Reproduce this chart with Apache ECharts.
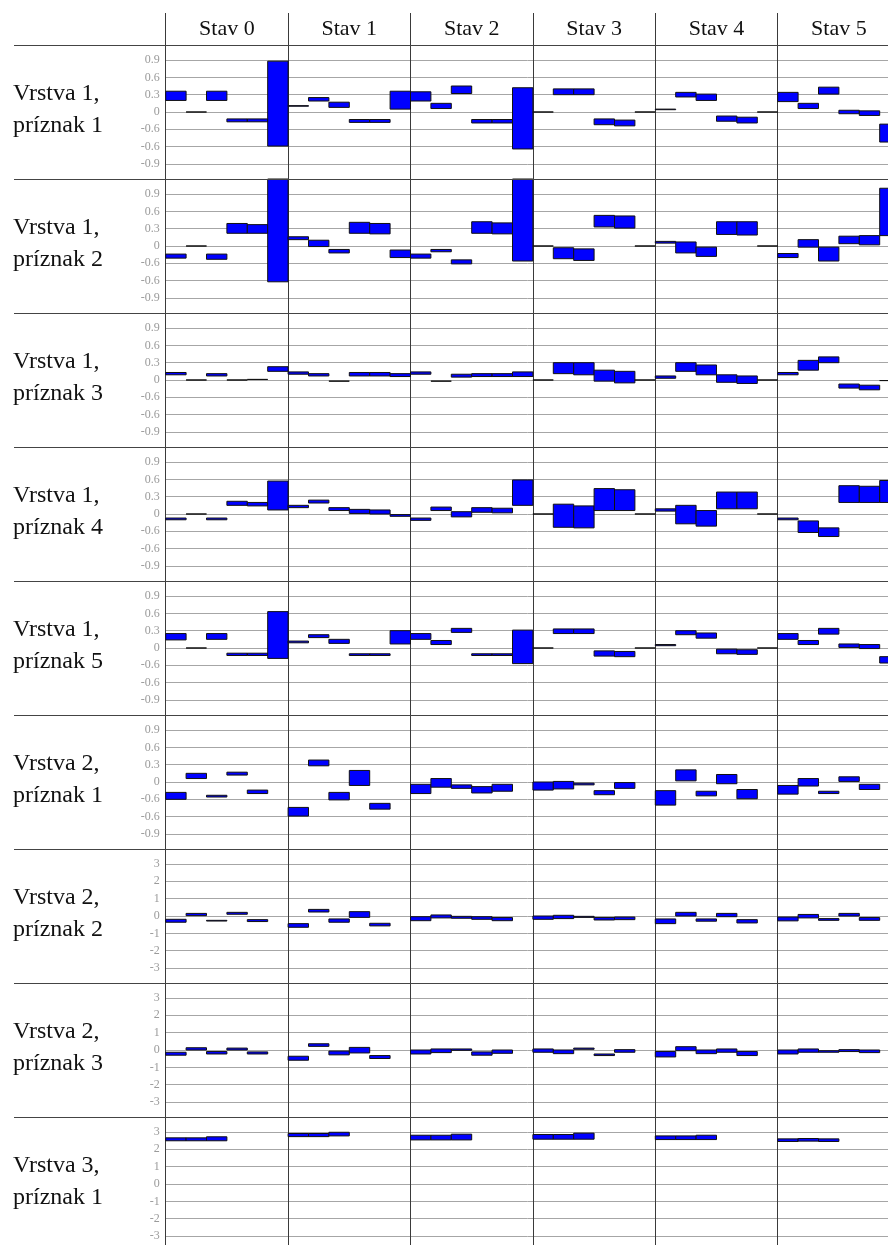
<!DOCTYPE html>
<html>
<head>
<meta charset="utf-8">
<script src="https://cdn.jsdelivr.net/npm/echarts@6/dist/echarts.min.js"></script>
<style>
html,body{margin:0;padding:0;background:#fff;}
#chart{width:888px;height:1245px;}
</style>
</head>
<body>
<div id="chart"></div>
<script>
// ---- categories / labels ----
const stavLabels = ['Stav 0', 'Stav 1', 'Stav 2', 'Stav 3', 'Stav 4', 'Stav 5'];
const rowLabels = [
  'Vrstva 1,\npríznak 1', 'Vrstva 1,\npríznak 2', 'Vrstva 1,\npríznak 3',
  'Vrstva 1,\npríznak 4', 'Vrstva 1,\npríznak 5', 'Vrstva 2,\npríznak 1',
  'Vrstva 2,\npríznak 2', 'Vrstva 2,\npríznak 3', 'Vrstva 3,\npríznak 1'
];
// tick labels (as printed in the original, incl. its repeated "-0.6")
const smallTickValues = [0.9, 0.6, 0.3, 0, -0.3, -0.6, -0.9];
const smallTickLabels = ['0.9', '0.6', '0.3', '0', '-0.6', '-0.6', '-0.9'];
const bigTickValues = [3, 2, 1, 0, -1, -2, -3];
const bigTickLabels = ['3', '2', '1', '0', '-1', '-2', '-3'];

// ---- series values: per state, list of [low, high] bars ----
const v1p1 = [
  [[0.20,0.36],[0,0],[0.20,0.36],[-0.17,-0.12],[-0.17,-0.12],[-0.59,0.88]],
  [[0.10,0.11],[0.19,0.25],[0.08,0.17],[-0.18,-0.13],[-0.18,-0.13],[0.05,0.36]],
  [[0.19,0.35],[0.06,0.15],[0.32,0.45],[-0.19,-0.13],[-0.19,-0.13],[-0.64,0.42]],
  [[0,0],[0.30,0.40],[0.30,0.40],[-0.22,-0.12],[-0.24,-0.14],[0,0]],
  [[0.04,0.05],[0.26,0.34],[0.20,0.31],[-0.16,-0.07],[-0.19,-0.09],[0,0]],
  [[0.18,0.34],[0.06,0.15],[0.31,0.43],[-0.03,0.03],[-0.06,0.02],[-0.52,-0.21]]
];
const v1p2 = [
  [[-0.21,-0.14],[0,0],[-0.23,-0.14],[0.22,0.39],[0.22,0.37],[-0.62,1.30]],
  [[0.11,0.16],[-0.01,0.10],[-0.12,-0.06],[0.22,0.41],[0.21,0.39],[-0.20,-0.07]],
  [[-0.21,-0.14],[-0.10,-0.06],[-0.31,-0.24],[0.22,0.42],[0.21,0.40],[-0.26,1.30]],
  [[0,0],[-0.22,-0.03],[-0.25,-0.05],[0.33,0.53],[0.31,0.52],[0,0]],
  [[0.05,0.08],[-0.12,0.07],[-0.18,-0.02],[0.20,0.42],[0.19,0.42],[0,0]],
  [[-0.20,-0.13],[-0.02,0.11],[-0.26,-0.02],[0.04,0.17],[0.02,0.18],[0.18,1.00]]
];
const v1p3 = [
  [[0.09,0.13],[0,0],[0.07,0.11],[0,0],[0.01,0.01],[0.15,0.23]],
  [[0.10,0.14],[0.07,0.11],[-0.02,-0.02],[0.07,0.13],[0.07,0.13],[0.06,0.11]],
  [[0.10,0.14],[-0.02,-0.02],[0.05,0.10],[0.06,0.11],[0.06,0.11],[0.06,0.14]],
  [[0,0],[0.11,0.30],[0.09,0.30],[-0.02,0.17],[-0.05,0.15],[0,0]],
  [[0.03,0.07],[0.15,0.30],[0.09,0.26],[-0.04,0.09],[-0.06,0.07],[0,0]],
  [[0.09,0.13],[0.17,0.34],[0.30,0.40],[-0.14,-0.07],[-0.17,-0.09],[-0.01,-0.01]]
];
const v1p4 = [
  [[-0.10,-0.07],[0,0],[-0.10,-0.07],[0.15,0.22],[0.14,0.20],[0.07,0.57]],
  [[0.11,0.15],[0.19,0.24],[0.06,0.11],[0.01,0.08],[0,0.07],[-0.04,-0.01]],
  [[-0.11,-0.07],[0.06,0.12],[-0.05,0.04],[0.03,0.11],[0.02,0.10],[0.15,0.59]],
  [[0,0],[-0.23,0.17],[-0.24,0.14],[0.06,0.44],[0.06,0.42],[0,0]],
  [[0.05,0.09],[-0.17,0.15],[-0.21,0.06],[0.09,0.38],[0.09,0.38],[0,0]],
  [[-0.10,-0.07],[-0.32,-0.12],[-0.39,-0.24],[0.20,0.49],[0.20,0.48],[0.20,0.58]]
];
const v1p5 = [
  [[0.14,0.25],[0,0],[0.15,0.25],[-0.13,-0.09],[-0.13,-0.09],[-0.18,0.63]],
  [[0.09,0.12],[0.18,0.23],[0.08,0.15],[-0.13,-0.10],[-0.13,-0.10],[0.07,0.30]],
  [[0.15,0.25],[0.06,0.13],[0.27,0.34],[-0.13,-0.10],[-0.13,-0.10],[-0.27,0.31]],
  [[0,0],[0.25,0.33],[0.25,0.33],[-0.14,-0.05],[-0.15,-0.06],[0,0]],
  [[0.04,0.06],[0.23,0.30],[0.17,0.26],[-0.10,-0.02],[-0.11,-0.03],[0,0]],
  [[0.15,0.25],[0.06,0.13],[0.24,0.34],[0.01,0.07],[-0.01,0.06],[-0.26,-0.15]]
];
const v2p1 = [
  [[-0.30,-0.18],[0.06,0.15],[-0.26,-0.23],[0.12,0.17],[-0.20,-0.14]],
  [[-0.59,-0.44],[0.28,0.38],[-0.31,-0.18],[-0.06,0.20],[-0.47,-0.37]],
  [[-0.20,-0.04],[-0.09,0.06],[-0.11,-0.05],[-0.19,-0.08],[-0.16,-0.04]],
  [[-0.14,0],[-0.12,0.01],[-0.05,-0.02],[-0.22,-0.15],[-0.11,-0.01]],
  [[-0.40,-0.15],[0.02,0.21],[-0.24,-0.16],[-0.03,0.13],[-0.29,-0.13]],
  [[-0.21,-0.06],[-0.07,0.06],[-0.20,-0.16],[0.01,0.09],[-0.13,-0.04]]
];
const v2p2 = [
  [[-0.36,-0.19],[0.02,0.15],[-0.29,-0.25],[0.10,0.21],[-0.32,-0.21]],
  [[-0.65,-0.44],[0.23,0.38],[-0.36,-0.17],[-0.08,0.25],[-0.57,-0.42]],
  [[-0.27,-0.04],[-0.11,0.06],[-0.13,-0.02],[-0.19,-0.04],[-0.27,-0.09]],
  [[-0.19,0],[-0.15,0.04],[-0.08,-0.02],[-0.23,-0.09],[-0.21,-0.06]],
  [[-0.44,-0.17],[0,0.21],[-0.30,-0.17],[-0.04,0.15],[-0.40,-0.21]],
  [[-0.28,-0.06],[-0.11,0.09],[-0.25,-0.15],[0,0.15],[-0.25,-0.09]]
];
const v2p3 = [
  [[-0.30,-0.13],[0,0.13],[-0.23,-0.09],[0,0.11],[-0.23,-0.11]],
  [[-0.59,-0.36],[0.21,0.36],[-0.28,-0.06],[-0.17,0.15],[-0.49,-0.32]],
  [[-0.23,0],[-0.15,0.06],[-0.02,0.06],[-0.30,-0.11],[-0.19,0]],
  [[-0.13,0.06],[-0.21,0],[0.04,0.11],[-0.32,-0.23],[-0.13,0.02]],
  [[-0.40,-0.09],[-0.04,0.19],[-0.21,0],[-0.13,0.06],[-0.32,-0.09]],
  [[-0.23,0],[-0.13,0.06],[-0.13,-0.04],[-0.09,0.02],[-0.15,0]]
];
const v3p1 = [
  [[2.49,2.66],[2.49,2.66],[2.49,2.72]],
  [[2.73,2.91],[2.73,2.91],[2.77,2.98]],
  [[2.54,2.81],[2.54,2.81],[2.54,2.87]],
  [[2.58,2.85],[2.58,2.85],[2.58,2.93]],
  [[2.56,2.77],[2.56,2.77],[2.56,2.81]],
  [[2.45,2.60],[2.47,2.62],[2.45,2.60]]
];
const rowData = [v1p1, v1p2, v1p3, v1p4, v1p5, v2p1, v2p2, v2p3, v3p1];
const rowScale = ['small','small','small','small','small','small','big','big','big'];

// ---- layout ----
const W = 888, H = 1245;
const GRID_LEFT = 165.7, COL_W = 122.4, SLOTS = 6;
const HEAD_TOP = 13, TOP = 45, ROW_H = 134;
const SMALL_MAX = 1.16, BIG_MAX = 3.86;
const FONT = '"Liberation Serif", "DejaVu Serif", serif';

const grids = [], xAxes = [], yAxes = [], series = [], graphics = [];

rowData.forEach((row, r) => {
  const big = rowScale[r] === 'big';
  const M = big ? BIG_MAX : SMALL_MAX;
  const tv = big ? bigTickValues : smallTickValues;
  const tl = big ? bigTickLabels : smallTickLabels;
  const step = big ? 1 : 0.3;
  grids.push({ left: GRID_LEFT, width: COL_W * stavLabels.length, top: TOP + r * ROW_H, height: ROW_H, outerBoundsMode: 'none', containLabel: false });
  xAxes.push({
    gridIndex: r, type: 'value', min: 0, max: SLOTS * stavLabels.length, interval: SLOTS, z: 3,
    axisLine: { show: false }, axisTick: { show: false }, axisLabel: { show: false },
    splitLine: { show: true, lineStyle: { color: '#3a3a3a', width: 1 } }
  });
  yAxes.push({
    gridIndex: r, type: 'value', min: -M, max: M, minInterval: step, maxInterval: step, z: 1,
    axisLine: { show: false }, axisTick: { show: false },
    splitLine: { show: true, lineStyle: { color: '#a6a6a6', width: 1 } },
    axisLabel: {
      color: '#9a9a9a', fontSize: 12, fontFamily: FONT, margin: 6,
      formatter: (v) => {
        for (let i = 0; i < tv.length; i++) if (Math.abs(v - tv[i]) < 1e-6) return tl[i];
        return '';
      }
    }
  });
  const items = [];
  row.forEach((bars, s) => {
    bars.forEach((b, j) => { items.push([s * SLOTS + j, b[0], b[1]]); });
  });
  series.push({
    type: 'custom', xAxisIndex: r, yAxisIndex: r, z: 5, silent: true,
    data: items,
    renderItem: (params, api) => {
      const slot = api.value(0), lo = api.value(1), hi = api.value(2);
      const p0 = api.coord([slot, lo]);
      const p1 = api.coord([slot + 1, hi]);
      const cs = params.coordSys;
      const rect = echarts.graphic.clipRectByRect(
        { x: p0[0], y: p1[1], width: p1[0] - p0[0], height: p0[1] - p1[1] },
        { x: cs.x, y: cs.y, width: cs.width, height: cs.height }
      );
      if (!rect) return null;
      return { type: 'rect', shape: rect, style: { fill: '#0000ff', stroke: '#111', lineWidth: 1 } };
    }
  });
  graphics.push({
    type: 'text', z: 10, silent: true, x: 13, y: TOP + r * ROW_H + 64.5,
    style: { text: rowLabels[r], font: '24px ' + FONT, fill: '#111', lineHeight: 32, verticalAlign: 'middle', align: 'left' }
  });
});

// header grid
const hi = rowData.length;
grids.push({ left: GRID_LEFT, width: COL_W * stavLabels.length, top: HEAD_TOP, height: TOP - HEAD_TOP, outerBoundsMode: 'none', containLabel: false });
xAxes.push({
  gridIndex: hi, type: 'category', data: stavLabels, boundaryGap: true, position: 'bottom', z: 3,
  axisLine: { show: false }, axisTick: { show: false },
  splitLine: { show: true, interval: 0, lineStyle: { color: '#3a3a3a', width: 1 } },
  axisLabel: { inside: true, margin: 5, interval: 0, color: '#111', fontSize: 22, fontFamily: FONT }
});
yAxes.push({ gridIndex: hi, type: 'value', show: false, splitLine: { show: false } });

// row separators
for (let i = 0; i <= rowData.length; i++) {
  const y = Math.round(TOP + i * ROW_H) + 0.5;
  if (y > H) break;
  graphics.push({ type: 'line', z: 20, silent: true, shape: { x1: 14, y1: y, x2: W, y2: y }, style: { stroke: '#444', lineWidth: 1.2 } });
}

const chart = echarts.init(document.getElementById('chart'), null, { renderer: 'canvas' });
chart.setOption({
  backgroundColor: '#fff',
  animation: false,
  grid: grids,
  xAxis: xAxes,
  yAxis: yAxes,
  series: series,
  graphic: graphics
});
</script>
</body>
</html>
